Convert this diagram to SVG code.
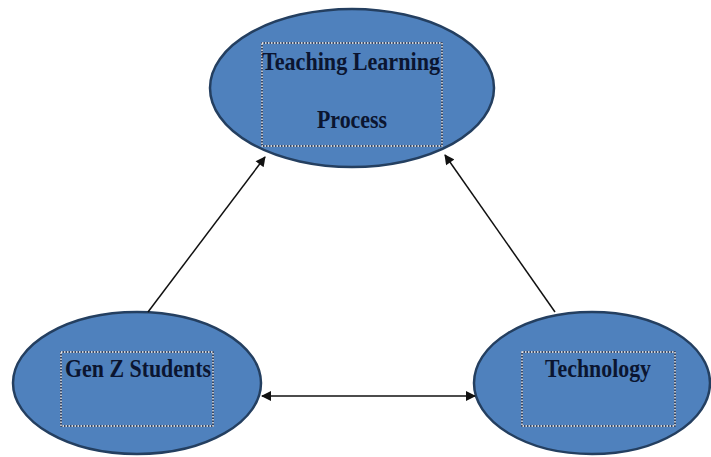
<svg xmlns="http://www.w3.org/2000/svg" width="711" height="457" viewBox="0 0 711 457">
<defs>
<style>
.node{fill:#4F81BD;stroke:#243F60;stroke-width:2.5}
.boxd{fill:none;stroke:#2a2a3a;stroke-width:1.3}
.boxw{fill:none;stroke:#ffffff;stroke-width:1.3;stroke-dasharray:1.5 1.5}
.lbl{font-family:"Liberation Serif","Times New Roman",serif;font-weight:bold;font-size:26px;fill:#0b1530}
.conn{stroke:#111;stroke-width:1.5;fill:none}
</style>
<marker id="ah" viewBox="0 0 10 10" refX="9" refY="5" markerWidth="11" markerHeight="10" markerUnits="userSpaceOnUse" orient="auto-start-reverse">
<path d="M0,0 L10,5 L0,10 z" fill="#111"/>
</marker>
</defs>
<rect width="711" height="457" fill="#ffffff"/>
<g id="node-teaching">
<ellipse class="node" cx="352" cy="88" rx="142" ry="79"/>
<rect class="boxd" x="262" y="43" width="180" height="103"/>
<rect class="boxw" x="262" y="43" width="180" height="103"/>
<text class="lbl" x="351" y="70" text-anchor="middle" textLength="178" lengthAdjust="spacingAndGlyphs">Teaching Learning</text>
<text class="lbl" x="352" y="128" text-anchor="middle" textLength="70" lengthAdjust="spacingAndGlyphs">Process</text>
</g>
<g id="node-genz">
<ellipse class="node" cx="137" cy="383" rx="124" ry="71"/>
<rect class="boxd" x="61" y="352" width="152" height="74"/>
<rect class="boxw" x="61" y="352" width="152" height="74"/>
<text class="lbl" x="138" y="377" text-anchor="middle" textLength="146" lengthAdjust="spacingAndGlyphs">Gen Z Students</text>
</g>
<g id="node-technology">
<ellipse class="node" cx="592" cy="383" rx="118" ry="71"/>
<rect class="boxd" x="522" y="352" width="153" height="74"/>
<rect class="boxw" x="522" y="352" width="153" height="74"/>
<text class="lbl" x="598" y="377" text-anchor="middle" textLength="106" lengthAdjust="spacingAndGlyphs">Technology</text>
</g>
<g id="connectors">
<line class="conn" x1="148" y1="312" x2="265" y2="157" marker-end="url(#ah)"/>
<line class="conn" x1="555" y1="312" x2="445" y2="155" marker-end="url(#ah)"/>
<line class="conn" x1="262" y1="396" x2="475" y2="396" marker-start="url(#ah)" marker-end="url(#ah)"/>
</g>
</svg>
